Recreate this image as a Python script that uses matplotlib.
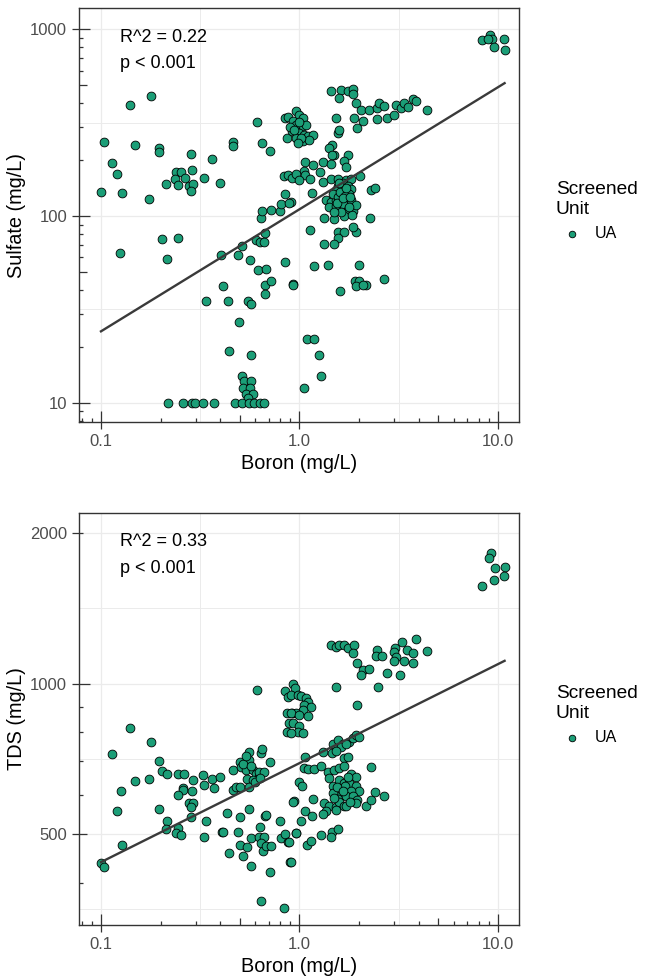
import numpy as np
import matplotlib.pyplot as plt
from matplotlib.ticker import NullFormatter

plt.rcParams['font.family'] = ['Liberation Sans', 'DejaVu Sans']

# --- top panel: boron vs sulfate (mg/L) ---
boron_s = [0.140, 0.178, 0.103, 0.148, 0.195, 0.195, 0.114, 0.120, 0.100, 0.127,
           0.175, 0.240, 0.252, 0.213, 0.236, 0.245, 0.264, 0.283, 0.289, 0.278,
           0.292, 0.285, 0.331, 0.361, 0.396, 0.463, 0.463, 0.610, 0.648, 0.711,
           0.204, 0.243, 0.124, 0.215, 0.403, 0.514, 0.490, 0.566, 0.603, 0.636,
           0.660, 0.670, 0.621, 0.680, 0.670, 0.719, 0.670, 0.639, 0.648, 0.716,
           0.794, 0.810, 0.847, 0.910, 0.846, 0.932, 0.412, 0.340, 0.436, 0.548,
           0.570, 0.493, 0.442, 0.570, 0.511, 0.527, 0.570, 0.520, 0.565, 0.540,
           0.580, 0.550, 0.218, 0.260, 0.286, 0.297, 0.328, 0.371, 0.472, 0.511,
           0.557, 0.590, 0.630, 0.660, 0.840, 0.875, 0.920, 0.850, 0.875, 0.870,
           0.960, 0.990, 1.04, 0.926, 0.960, 1.04, 1.08, 0.920, 1.00, 1.06,
           1.10, 1.17, 1.04, 0.960, 1.12, 0.900, 0.940, 1.00, 1.02, 0.980,
           8.31, 9.16, 9.33, 9.56, 10.75, 10.8, 8.90, 1.44, 1.62, 1.59,
           1.75, 1.87, 1.87, 1.92, 2.04, 2.09, 1.89, 1.96, 2.24, 2.47,
           2.52, 2.67, 2.45, 2.77, 3.00, 3.05, 3.24, 3.38, 3.53, 3.74,
           3.85, 4.40, 1.52, 1.56, 1.59, 1.46, 1.41, 1.50, 1.46, 1.75,
           1.68, 1.71, 1.07, 1.17, 1.31, 1.44, 1.06, 1.27, 0.960, 1.07,
           1.00, 1.13, 1.31, 1.44, 1.57, 1.71, 1.82, 2.01, 1.56, 1.65,
           1.75, 1.82, 1.53, 1.68, 1.77, 2.29, 2.41, 1.16, 1.36, 1.44,
           1.53, 1.62, 1.71, 1.82, 1.47, 1.57, 1.41, 1.53, 1.65, 1.75,
           1.85, 1.92, 1.33, 1.50, 1.68, 1.84, 2.27, 0.890, 1.13, 1.56,
           1.68, 1.92, 1.85, 1.56, 1.33, 1.49, 1.19, 1.40, 2.00, 0.933,
           1.60, 1.91, 1.99, 1.92, 2.16, 2.09, 2.67, 1.09, 1.19, 1.25,
           1.29, 1.06, 1.60, 1.70, 1.55, 1.62, 1.78, 1.50, 1.65, 1.72,
           1.58, 1.80]
sulfate = [394, 440, 249, 241, 231, 220, 192, 168, 134, 132,
           124, 172, 171, 149, 158, 147, 160, 215, 177, 144,
           149, 136, 160, 202, 150, 248, 238, 317, 245, 222,
           75.4, 76.0, 63.1, 59.2, 62.0, 68.8, 62.0, 58.2, 74.1, 72.6,
           72.6, 81.5, 51.4, 51.9, 42.9, 45.1, 38.3, 97.5, 107, 108,
           107, 116, 131, 119, 56.5, 43.3, 42.3, 35.1, 35.1, 35.1,
           34.0, 27.0, 19.0, 18.0, 14.0, 13.1, 13.1, 12.0, 12.0, 11.1,
           11.1, 10.6, 10, 10, 10, 10, 10, 10, 10, 10,
           10, 10, 10, 10, 164, 166, 160, 334, 337, 261,
           363, 348, 334, 321, 308, 302, 308, 284, 278, 272,
           267, 272, 251, 262, 256, 300, 290, 320, 260, 245,
           877, 933, 888, 801, 888, 773, 888, 464, 474, 428,
           464, 478, 449, 402, 370, 324, 334, 296, 370, 378,
           402, 389, 330, 334, 348, 392, 378, 402, 383, 424,
           410, 370, 334, 278, 290, 239, 231, 211, 212, 212,
           198, 182, 195, 187, 195, 190, 175, 173, 168, 165,
           156, 158, 152, 158, 158, 156, 158, 163, 144, 150,
           144, 140, 138, 138, 131, 138, 141, 133, 122, 119,
           122, 119, 118, 122, 131, 127, 112, 113, 116, 108,
           106, 115, 97.0, 96.0, 99.6, 101, 97.5, 117, 84.5, 82.0,
           82.0, 82.0, 87.7, 76.3, 70.8, 70.8, 54.2, 55.0, 55.0, 43.0,
           39.9, 45.1, 45.1, 42.1, 42.9, 42.9, 46.0, 22.1, 22.1, 18.0,
           14.0, 12.0, 135, 128, 118, 105, 112, 105, 125, 142,
           150, 127]

# --- bottom panel: boron vs TDS (mg/L) ---
boron_t = [0.100, 0.1035, 0.127, 0.121, 0.126, 0.114, 0.140, 0.178, 0.148, 0.175,
           0.195, 0.196, 0.204, 0.216, 0.216, 0.213, 0.243, 0.263, 0.245, 0.238,
           0.254, 0.260, 0.290, 0.260, 0.245, 0.289, 0.278, 0.290, 0.285, 0.283,
           0.326, 0.364, 0.400, 0.330, 0.370, 0.339, 0.332, 0.433, 0.406, 0.412,
           0.463, 0.463, 0.477, 0.500, 0.510, 0.557, 0.560, 0.536, 0.580, 0.603,
           0.626, 0.546, 0.580, 0.626, 0.660, 0.640, 0.651, 0.710, 0.500, 0.557,
           0.600, 0.630, 0.520, 0.540, 0.570, 0.560, 0.500, 0.490, 0.568, 0.500,
           0.546, 0.442, 0.520, 0.568, 0.632, 0.626, 0.660, 0.640, 0.653, 0.680,
           0.720, 0.670, 0.680, 0.710, 0.637, 0.840, 0.613, 0.800, 0.810, 0.850,
           0.875, 0.900, 0.935, 0.955, 0.850, 0.875, 0.870, 0.885, 0.870, 0.920,
           0.933, 0.944, 0.908, 0.980, 1.02, 1.08, 1.11, 1.06, 1.14, 1.04,
           0.960, 0.908, 1.00, 1.10, 0.926, 1.00, 0.980, 1.04, 0.908, 1.44,
           1.53, 1.59, 1.67, 1.76, 1.89, 1.87, 1.96, 2.08, 2.24, 2.04,
           2.47, 2.42, 2.60, 2.77, 2.50, 3.03, 3.00, 3.05, 3.00, 3.30,
           3.49, 3.73, 3.75, 3.85, 3.36, 3.21, 4.40, 1.52, 1.96, 9.20,
           8.98, 9.70, 10.8, 10.75, 9.51, 8.31, 1.47, 1.57, 1.65, 1.78,
           1.85, 1.92, 2.00, 1.62, 1.71, 1.32, 1.46, 1.53, 1.07, 1.68,
           1.75, 1.06, 1.10, 1.19, 1.28, 1.40, 1.50, 1.59, 1.68, 1.82,
           1.92, 2.29, 1.00, 1.03, 1.41, 1.47, 1.59, 1.68, 1.78, 1.92,
           2.00, 1.70, 1.62, 1.82, 1.17, 1.47, 1.56, 1.71, 1.85, 1.96,
           2.16, 2.29, 2.41, 2.67, 0.933, 1.33, 1.41, 1.53, 1.59, 1.68,
           1.92, 1.36, 1.53, 1.71, 1.07, 1.16, 1.32, 1.02, 0.960, 1.46,
           1.56, 1.44, 1.28, 1.09, 1.14, 0.908, 0.890, 1.55, 1.75, 1.65,
           1.80, 1.50]
tds = [438, 430, 475, 556, 609, 724, 816, 766, 640, 645,
       562, 700, 668, 661, 530, 511, 661, 661, 515, 502,
       497, 617, 641, 613, 598, 609, 578, 577, 566, 542,
       657, 645, 652, 626, 618, 530, 494, 550, 506, 506,
       673, 612, 620, 698, 682, 731, 702, 673, 673, 661,
       652, 646, 641, 667, 667, 728, 740, 698, 620, 620,
       635, 649, 690, 715, 685, 562, 540, 506, 492, 476,
       472, 458, 453, 431, 516, 494, 494, 479, 463, 474,
       474, 543, 546, 420, 368, 356, 971, 531, 491, 500,
       483, 440, 583, 503, 966, 942, 873, 834, 802, 873,
       1000, 979, 950, 950, 946, 936, 921, 906, 899, 885,
       873, 873, 866, 862, 834, 821, 802, 798, 796, 1195,
       1186, 1195, 1195, 1176, 1195, 1150, 1102, 1065, 1070, 1040,
       1167, 1137, 1137, 1050, 986, 1176, 1156, 1133, 1108, 1211,
       1170, 1150, 1100, 1228, 1112, 1040, 1162, 986, 906, 1828,
       1787, 1702, 1715, 1644, 1615, 1570, 757, 772, 757, 766,
       779, 789, 783, 748, 759, 730, 727, 733, 714, 711,
       714, 677, 675, 675, 683, 667, 673, 677, 684, 659,
       650, 680, 637, 623, 647, 623, 642, 632, 632, 623,
       609, 623, 600, 609, 588, 604, 588, 595, 597, 586,
       568, 586, 606, 595, 581, 577, 568, 566, 581, 570,
       578, 555, 560, 568, 555, 543, 549, 530, 503, 506,
       512, 494, 498, 476, 485, 440, 483, 620, 650, 610,
       580, 590]

# log10 fits: (intercept, slope)
sulfate_fit = (2.036, 0.653)
tds_fit = (2.841, 0.198)

x_breaks = [0.1, 1, 10]
x_labels = ['0.1', '1.0', '10.0']
sulfate_breaks = [10, 100, 1000]
tds_breaks = [500, 1000, 2000]
stats_top = ['R^2 = 0.22', 'p < 0.001']
stats_bot = ['R^2 = 0.33', 'p < 0.001']

pt_color = '#1B9E77'
grid_c = '#EBEBEB'
frame_c = '#333333'
XLIM = (0.0775, 12.75)


def logticks(ax, axis, lo, hi, size_px):
    # ggplot-style annotation_logticks: long at 10^k, mid at 5*10^k, short otherwise
    for e in range(int(np.floor(np.log10(lo))), int(np.ceil(np.log10(hi))) + 1):
        for m in range(1, 10):
            v = m * 10.0 ** e
            if not (lo <= v <= hi):
                continue
            L = 11 if m == 1 else (7.5 if m == 5 else 4)
            f = L / size_px
            if axis == 'x':
                ax.plot([v, v], [0, f], transform=ax.get_xaxis_transform(),
                        color=frame_c, lw=0.9, solid_capstyle='butt')
            else:
                ax.plot([0, f], [v, v], transform=ax.get_yaxis_transform(),
                        color=frame_c, lw=0.9, solid_capstyle='butt')


def panel(ax, x, y, fit, ybreaks, ylim, ylabel, stats):
    ax.set_xscale('log')
    ax.set_yscale('log')

    # grid: majors at breaks, minors at geometric midpoints
    xb = np.array(x_breaks, dtype=float)
    yb = np.array(ybreaks, dtype=float)
    ax.set_xticks(xb, x_labels)
    ax.set_yticks(yb, [str(v) for v in ybreaks])
    xe = np.concatenate([[xb[0] ** 2 / xb[1]], xb, [xb[-1] ** 2 / xb[-2]]])
    ye = np.concatenate([[yb[0] ** 2 / yb[1]], yb, [yb[-1] ** 2 / yb[-2]]])
    ax.set_xticks(np.sqrt(xe[:-1] * xe[1:]), minor=True)
    ax.set_yticks(np.sqrt(ye[:-1] * ye[1:]), minor=True)
    ax.xaxis.set_minor_formatter(NullFormatter())
    ax.yaxis.set_minor_formatter(NullFormatter())
    ax.grid(True, which='major', color=grid_c, lw=0.9)
    ax.grid(True, which='minor', color=grid_c, lw=0.7)
    ax.set_axisbelow(True)
    ax.tick_params(which='minor', length=0)
    ax.tick_params(which='major', direction='out', length=5, width=0.9,
                   color=frame_c, labelsize=12, labelcolor='#4D4D4D', pad=3.5)
    for s in ax.spines.values():
        s.set_color(frame_c)
        s.set_linewidth(1.0)

    ax.scatter(x, y, s=40, c=pt_color, edgecolors='black', linewidths=0.6,
               zorder=3, label='UA')
    xs = np.array([min(x), max(x)])
    ax.plot(xs, 10 ** (fit[0] + fit[1] * np.log10(xs)), color='#3A3A3A',
            lw=1.7, zorder=4)

    ax.set_xlim(*XLIM)
    ax.set_ylim(*ylim)
    logticks(ax, 'x', XLIM[0], XLIM[1], 414)
    logticks(ax, 'y', ylim[0], ylim[1], 440)
    ax.set_xlim(*XLIM)
    ax.set_ylim(*ylim)

    ax.text(0.0925, 0.919, stats[0], transform=ax.transAxes, fontsize=13,
            va='baseline')
    ax.text(0.0925, 0.855, stats[1], transform=ax.transAxes, fontsize=13,
            va='baseline')

    ax.set_xlabel('Boron (mg/L)', fontsize=14.3, labelpad=4)
    ax.set_ylabel(ylabel, fontsize=14.3, labelpad=3)

    ax.legend(loc='center left', bbox_to_anchor=(1.0515, 0.51),
              frameon=False, title='Screened\nUnit', title_fontsize=13.8,
              fontsize=11.5, alignment='left', markerscale=0.75,
              handlelength=2.0, handletextpad=0.45)


fig = plt.figure(figsize=(6.45, 9.77), dpi=100)
ax1 = fig.add_axes([0.1225, 0.568, 0.682, 0.4237])
ax2 = fig.add_axes([0.1225, 0.0532, 0.682, 0.4217])

panel(ax1, boron_s, sulfate, sulfate_fit, sulfate_breaks, (7.9, 1295),
      'Sulfate (mg/L)', stats_top)
panel(ax2, boron_t, tds, tds_fit, tds_breaks, (329, 2194),
      'TDS (mg/L)', stats_bot)

fig.savefig('out.png', dpi=100)
